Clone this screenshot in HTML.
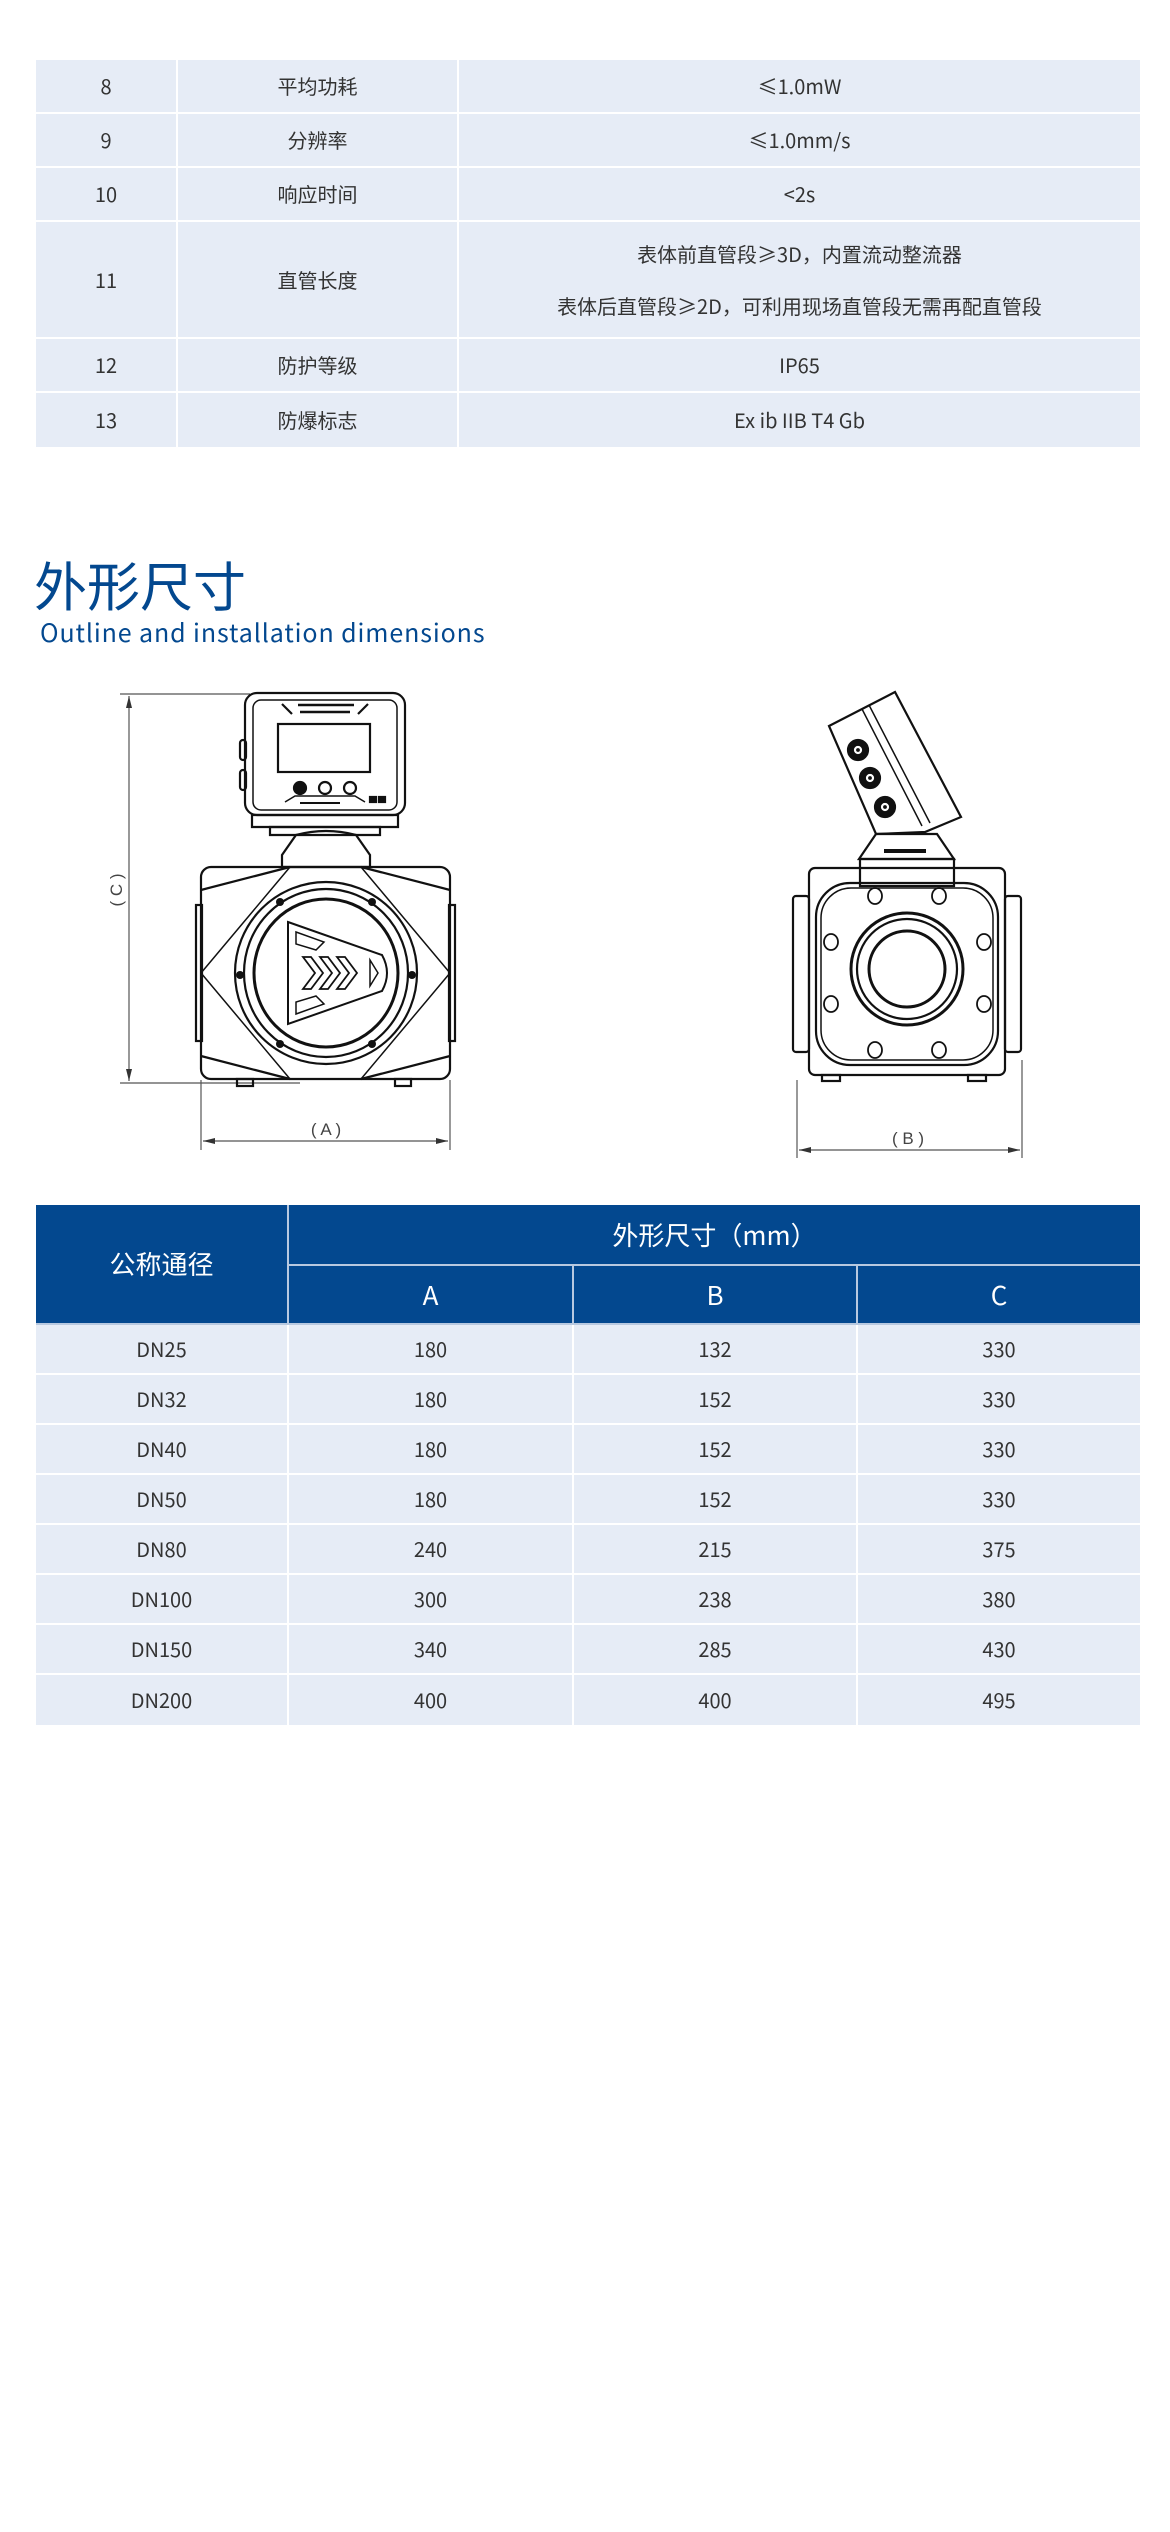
<!DOCTYPE html>
<html><head><meta charset="utf-8">
<style>
html,body{margin:0;padding:0;background:#fff;}
body{width:1170px;height:2532px;position:relative;overflow:hidden;font-family:"Noto Sans CJK SC","Liberation Sans",sans-serif;}
.t{position:absolute;border-collapse:separate;border-spacing:0;table-layout:fixed;}
.t td{background:#e6ecf6;color:#333;text-align:center;vertical-align:middle;font-size:20px;line-height:26px;padding:0;border-right:2px solid #fff;border-bottom:2px solid #fff;font-family:"Noto Sans CJK SC",sans-serif;}
.t td:last-child{border-right:none;}
.t tr.last td{border-bottom:none;}
.h td{background:#03488f;color:#fff;font-size:26px;border-color:#b8c9e0;}
</style></head><body>

<table class="t" style="left:36px;top:60px;width:1104px;">
<colgroup><col style="width:142px"><col style="width:281px"><col></colgroup>
<tr style="height:54px"><td>8</td><td>平均功耗</td><td>≤1.0mW</td></tr>
<tr style="height:54px"><td>9</td><td>分辨率</td><td>≤1.0mm/s</td></tr>
<tr style="height:54px"><td>10</td><td>响应时间</td><td>&lt;2s</td></tr>
<tr style="height:117px"><td>11</td><td>直管长度</td><td style="line-height:52px">表体前直管段≥3D，内置流动整流器<br>表体后直管段≥2D，可利用现场直管段无需再配直管段</td></tr>
<tr style="height:54px"><td>12</td><td>防护等级</td><td>IP65</td></tr>
<tr class="last" style="height:54px"><td>13</td><td>防爆标志</td><td>Ex ib IIB T4 Gb</td></tr>
</table>

<div style="position:absolute;left:34px;top:549px;font-size:53px;color:#03488f;font-family:'Noto Sans CJK SC',sans-serif;line-height:70px;">外形尺寸</div>
<div style="position:absolute;left:40px;top:616px;font-size:25px;color:#03488f;letter-spacing:0.9px;line-height:32px;font-family:'Noto Sans CJK SC',sans-serif;">Outline and installation dimensions</div>

<svg style="position:absolute;left:0;top:0" width="1170" height="1200" viewBox="0 0 1170 1200" fill="none" stroke="#111" stroke-width="2.2">
<g stroke="#555" stroke-width="1.2">
<line x1="120" y1="694" x2="250" y2="694"/><line x1="120" y1="1083" x2="300" y2="1083"/>
<line x1="129" y1="696" x2="129" y2="1081"/>
<line x1="201" y1="1080" x2="201" y2="1150"/><line x1="450" y1="1080" x2="450" y2="1150"/>
<line x1="203" y1="1141" x2="448" y2="1141"/>
<line x1="797" y1="1080" x2="797" y2="1158"/><line x1="1022" y1="1060" x2="1022" y2="1158"/>
<line x1="799" y1="1150" x2="1020" y2="1150"/>
</g>
<g fill="#333" stroke="none">
<path d="M129 696 l-3 12 h6z"/><path d="M129 1081 l-3 -12 h6z"/>
<path d="M203 1141 l12 -3 v6z"/><path d="M448 1141 l-12 -3 v6z"/>
<path d="M799 1150 l12 -3 v6z"/><path d="M1020 1150 l-12 -3 v6z"/>
</g>
<g fill="#444" stroke="none" font-family="Liberation Sans" font-size="17">
<text x="326" y="1135" text-anchor="middle">( A )</text>
<text x="908" y="1144" text-anchor="middle">( B )</text>
<text transform="translate(122,890) rotate(-90)" text-anchor="middle">( C )</text>
</g>
<rect x="245" y="693" width="160" height="122" rx="12"/>
<rect x="253" y="700" width="144" height="110" rx="8" stroke-width="1.5"/>
<rect x="240" y="740" width="6" height="20" rx="3"/><rect x="240" y="770" width="6" height="20" rx="3"/>
<path d="M252 815 h146 v12 h-146z"/>
<rect x="278" y="724" width="92" height="48"/>
<path d="M282 704 l10 10 M368 704 l-10 10" />
<path d="M298 705 h56 M300 712 h50" stroke-width="2.5"/>
<circle cx="300" cy="788" r="6" fill="#111"/><circle cx="325" cy="788" r="6"/><circle cx="350" cy="788" r="6"/>
<path d="M285 802 l10 -6 h60 l10 6" stroke-width="1.5"/>
<path d="M300 803 h40" stroke-width="2"/>
<rect x="370" y="797" width="6" height="5" fill="#111"/><rect x="379" y="797" width="6" height="5" fill="#111"/>
<path d="M270 827 h110 v8 h-110z"/>
<path d="M296 835 q30 -8 60 0 l14 20 v12 h-88 v-12z"/>
<rect x="201" y="867" width="249" height="212" rx="10"/>
<path d="M201 890 L290 867 M450 890 L361 867 M201 1056 L290 1079 M450 1056 L361 1079"/>
<path d="M290 867 L201 973 L290 1079 M361 867 L450 973 L361 1079" stroke-width="1.5"/>
<rect x="196" y="905" width="6" height="136"/><rect x="449" y="905" width="6" height="136"/>
<rect x="237" y="1079" width="16" height="7"/><rect x="395" y="1079" width="16" height="7"/>
<ellipse cx="326" cy="973" rx="91" ry="91"/>
<ellipse cx="326" cy="973" rx="82" ry="84"/>
<ellipse cx="326" cy="973" rx="72" ry="74" stroke-width="3"/>
<g fill="#111" stroke="none"><circle cx="280" cy="902" r="4"/><circle cx="372" cy="902" r="4"/><circle cx="280" cy="1044" r="4"/><circle cx="372" cy="1044" r="4"/><circle cx="240" cy="975" r="4"/><circle cx="412" cy="975" r="4"/></g>
<path d="M288 922 L382 955 Q392 973 382 991 L288 1024 Z" stroke-width="2"/>
<path d="M296 932 l28 10 -8 8 -20 -6z M296 1014 l28 -10 -8 -8 -20 6z M370 960 l8 13 -8 13z" stroke-width="1.5"/>
<path d="M303 957 l12 16 -12 16 h8 l12 -16 -12 -16z M320 957 l12 16 -12 16 h8 l12 -16 -12 -16z M337 957 l12 16 -12 16 h8 l12 -16 -12 -16z" stroke-width="1.8"/>
<path d="M829 726 L895 692 L961 817 L925 832 L876 834 Z"/>
<path d="M862 709 L922 826 M869 705 L930 823" stroke-width="1.5"/>
<circle cx="858" cy="750" r="10" fill="#111"/><circle cx="870" cy="778" r="10" fill="#111"/><circle cx="885" cy="807" r="10" fill="#111"/>
<circle cx="858" cy="750" r="3" stroke="#fff"/><circle cx="870" cy="778" r="3" stroke="#fff"/><circle cx="885" cy="807" r="3" stroke="#fff"/>
<path d="M876 834 h61 l17 25 h-95z"/>
<path d="M884 851 h42" stroke-width="4"/>
<rect x="860" y="859" width="94" height="27"/>
<rect x="809" y="868" width="196" height="207" rx="6"/>
<rect x="816" y="883" width="182" height="182" rx="34"/>
<rect x="821" y="888" width="172" height="172" rx="30" stroke-width="1.5"/>
<rect x="793" y="896" width="16" height="156" rx="3"/><rect x="1005" y="896" width="16" height="156" rx="3"/>
<rect x="822" y="1075" width="18" height="6"/><rect x="968" y="1075" width="18" height="6"/>
<g stroke-width="1.8"><ellipse cx="875" cy="896" rx="7" ry="8"/><ellipse cx="939" cy="896" rx="7" ry="8"/><ellipse cx="831" cy="942" rx="7" ry="8"/><ellipse cx="984" cy="942" rx="7" ry="8"/><ellipse cx="831" cy="1004" rx="7" ry="8"/><ellipse cx="984" cy="1004" rx="7" ry="8"/><ellipse cx="875" cy="1050" rx="7" ry="8"/><ellipse cx="939" cy="1050" rx="7" ry="8"/></g>
<circle cx="907" cy="969" r="56" stroke-width="3"/>
<circle cx="907" cy="969" r="50"/>
<circle cx="907" cy="969" r="38" stroke-width="3"/>
</svg>

<table class="t" style="left:36px;top:1205px;width:1104px;">
<colgroup><col style="width:253px"><col style="width:285px"><col style="width:284px"><col></colgroup>
<tr class="h" style="height:61px"><td rowspan="2" style="border-color:#b8c9e0">公称通径</td><td colspan="3" style="border-right:none">外形尺寸（mm）</td></tr>
<tr class="h" style="height:59px"><td>A</td><td>B</td><td style="border-right:none">C</td></tr>
<tr style="height:50px"><td>DN25</td><td>180</td><td>132</td><td>330</td></tr>
<tr style="height:50px"><td>DN32</td><td>180</td><td>152</td><td>330</td></tr>
<tr style="height:50px"><td>DN40</td><td>180</td><td>152</td><td>330</td></tr>
<tr style="height:50px"><td>DN50</td><td>180</td><td>152</td><td>330</td></tr>
<tr style="height:50px"><td>DN80</td><td>240</td><td>215</td><td>375</td></tr>
<tr style="height:50px"><td>DN100</td><td>300</td><td>238</td><td>380</td></tr>
<tr style="height:50px"><td>DN150</td><td>340</td><td>285</td><td>430</td></tr>
<tr class="last" style="height:50px"><td>DN200</td><td>400</td><td>400</td><td>495</td></tr>
</table>
</body></html>
